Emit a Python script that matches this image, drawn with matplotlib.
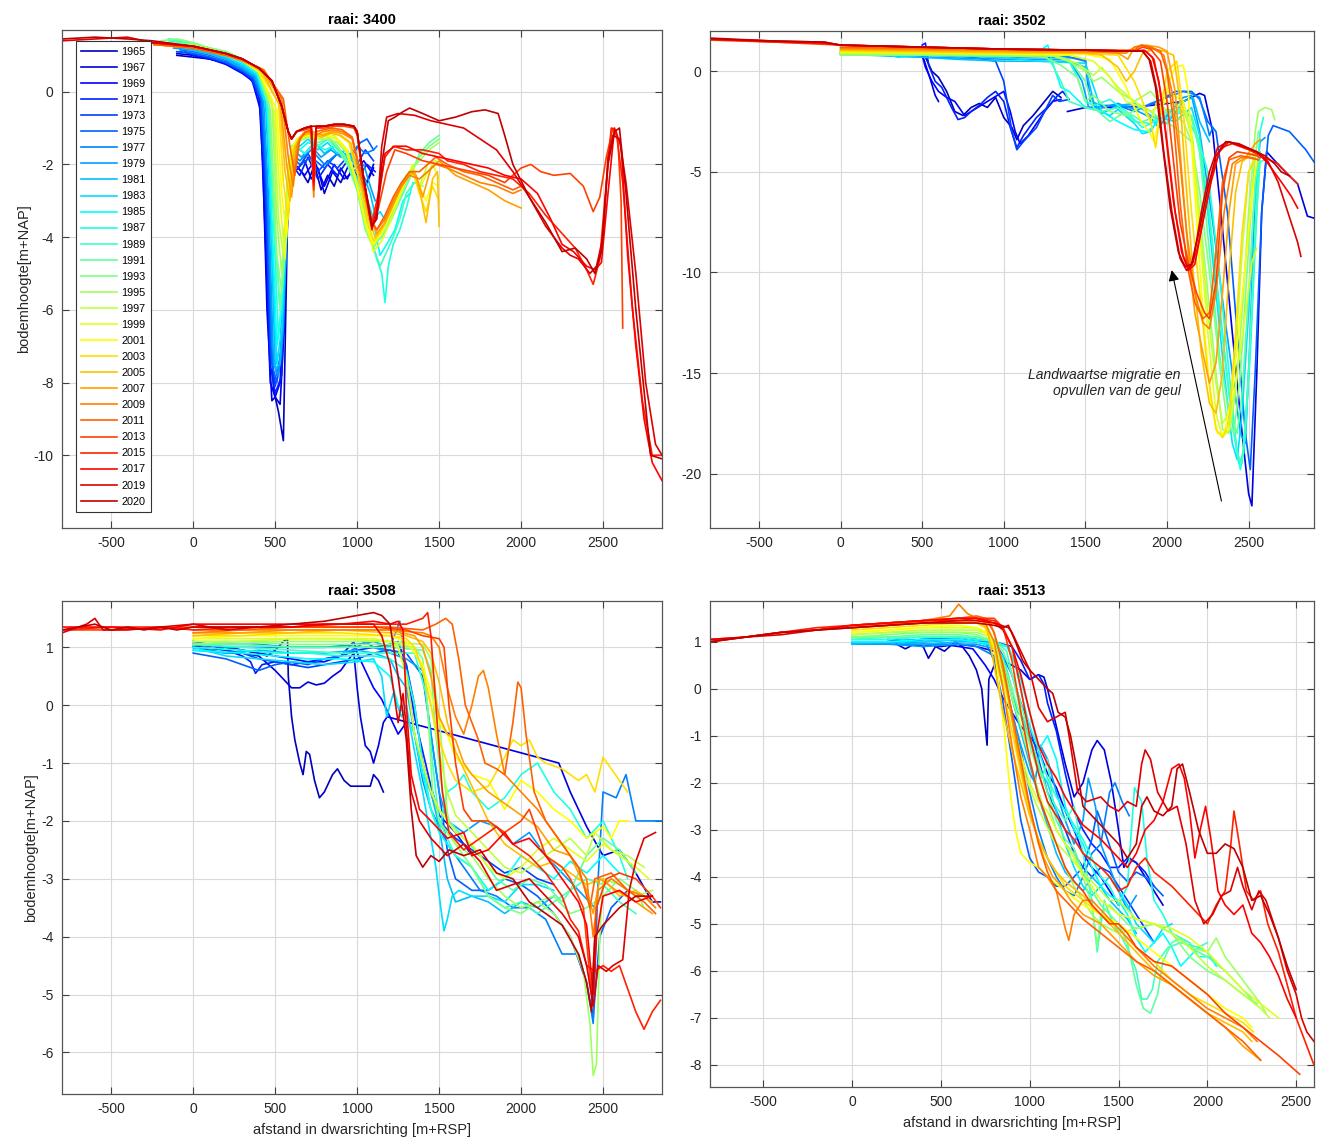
import numpy as np
import matplotlib
matplotlib.use("Agg")
import matplotlib.pyplot as plt

plt.rcParams['font.family'] = ['Liberation Sans', 'DejaVu Sans']
plt.rcParams['axes.unicode_minus'] = False

years = [1965, 1967, 1969, 1971, 1973, 1975, 1977, 1979, 1981, 1983, 1985, 1987, 1989,
         1991, 1993, 1995, 1997, 1999, 2001, 2003, 2005, 2007, 2009, 2011, 2013, 2015,
         2017, 2019, 2020]

N = float('nan')

# raai 3400: one profile (x, z) list per year
p3400 = [
    [(-100,1.0),(0,0.95),(100,0.9),(200,0.8),(300,0.6),(350,0.4),(400,0.1),(430,-1.5),(460,-5.0),(490,-8.2),(520,-8.8),(550,-9.6),(565,-6.0),(580,-2.3),(620,-2.0),(660,-2.2),(700,-2.5),(740,-2.0),(780,-2.7),(820,-2.3),(860,-2.6),(900,-2.1),(940,-2.4),(980,-2.0),(1020,-2.2),(1060,-2.5),(1100,-2.1)],
    [(-100,1.05),(0,1.0),(100,0.9),(200,0.8),(300,0.55),(350,0.35),(400,0.0),(425,-2.0),(450,-6.0),(480,-8.5),(500,-8.4),(530,-8.6),(555,-6.5),(580,-2.1),(620,-2.2),(680,-1.9),(720,-2.4),(760,-2.1),(800,-2.8),(850,-2.2),(900,-2.5),(950,-2.0),(1000,-2.3),(1050,-2.6),(1100,-2.0)],
    [(-50,1.1),(0,1.0),(100,0.9),(200,0.75),(300,0.5),(360,0.3),(410,-0.5),(440,-4.0),(470,-8.0),(500,-8.4),(530,-8.0),(560,-5.0),(585,-2.2),(620,-2.0),(680,-2.3),(740,-1.9),(800,-2.6),(860,-2.0),(920,-2.4),(980,-2.2),(1040,-1.9),(1100,-2.3)],
    [(-50,1.1),(0,1.0),(100,0.92),(200,0.78),(300,0.55),(360,0.3),(410,-0.3),(440,-3.0),(470,-7.5),(500,-8.3),(540,-7.8),(570,-4.0),(600,-2.0),(650,-2.3),(700,-1.8),(760,-2.4),(820,-2.0),(880,-2.3),(940,-1.9),(1000,-2.4),(1060,-2.0),(1110,-2.2)],
    [(-100,1.1),(0,1.05),(100,0.95),(200,0.8),(300,0.55),(360,0.35),(410,-0.2),(440,-2.5),(470,-7.0),(500,-8.1),(530,-7.5),(560,-3.5),(590,-1.9),(640,-2.1),(700,-1.7),(760,-2.2),(820,-1.9),(880,-2.1),(940,-1.8),(1000,-2.0),(1050,-1.6),(1100,-1.9)],
    [(-80,1.1),(0,1.05),(100,0.95),(200,0.8),(300,0.6),(370,0.35),(420,-0.3),(450,-3.0),(480,-7.5),(510,-8.0),(540,-7.2),(570,-3.0),(600,-1.8),(650,-2.0),(720,-1.8),(800,-2.1),(880,-1.7),(950,-1.9),(1020,-1.4),(1060,-1.3),(1100,-1.6)],
    [(-80,1.15),(0,1.1),(100,1.0),(200,0.85),(300,0.6),(370,0.4),(420,-0.2),(450,-2.5),(480,-7.0),(510,-7.8),(540,-7.0),(570,-3.0),(600,-1.7),(650,-1.9),(720,-1.6),(800,-2.0),(880,-1.7),(950,-1.8),(1000,-1.5),(1050,-1.7),(1100,-1.6),(1120,-1.5)],
    [(-120,1.2),(0,1.15),(100,1.05),(200,0.9),(300,0.65),(380,0.4),(430,-0.3),(460,-3.0),(490,-7.5),(520,-7.8),(550,-6.5),(580,-2.5),(610,-1.6),(660,-1.8),(720,-1.5),(780,-1.8),(840,-1.6),(900,-1.8),(960,-1.7),(1000,-2.2),(1040,-2.0),(1080,-2.6),(1110,-3.0)],
    [(-120,1.25),(0,1.15),(100,1.05),(200,0.92),(300,0.7),(380,0.45),(440,-0.2),(470,-3.0),(500,-7.6),(530,-7.5),(560,-5.0),(590,-2.0),(620,-1.5),(680,-1.7),(740,-1.4),(800,-1.7),(860,-1.5),(920,-1.7),(980,-1.8),(1030,-2.2),(1080,-2.8),(1110,-3.4)],
    [(-100,1.3),(0,1.2),(100,1.1),(200,0.95),(300,0.75),(390,0.45),(450,-0.5),(480,-4.0),(510,-7.5),(540,-6.5),(570,-3.5),(600,-1.6),(650,-1.5),(700,-1.3),(760,-1.6),(820,-1.4),(880,-1.7),(940,-1.6),(1000,-2.2),(1050,-2.8),(1100,-3.5),(1140,-3.3),(1180,-3.6),(1220,-3.2)],
    [(-100,1.4),(0,1.25),(100,1.15),(200,1.0),(300,0.8),(390,0.5),(450,-0.3),(480,-3.5),(510,-7.0),(540,-6.0),(570,-3.0),(600,-1.5),(650,-1.6),(700,-1.4),(760,-1.5),(820,-1.3),(880,-1.6),(940,-1.8),(1000,-2.4),(1050,-3.0),(1100,-3.6),(1140,-4.5),(1180,-4.2),(1230,-3.8),(1280,-3.0),(1320,-2.8)],
    [(-150,1.4),(0,1.3),(100,1.2),(200,1.05),(300,0.85),(390,0.55),(450,-0.2),(490,-3.5),(520,-6.8),(550,-5.0),(580,-2.0),(620,-1.5),(680,-1.7),(740,-1.4),(800,-1.6),(860,-1.5),(920,-1.8),(980,-2.2),(1040,-3.2),(1080,-4.0),(1120,-4.6),(1150,-5.0),(1170,-5.8),(1190,-4.8),(1220,-4.2),(1260,-3.8),(1300,-3.2),(1340,-2.5)],
    [(-150,1.45),(0,1.3),(100,1.2),(200,1.1),(300,0.9),(390,0.55),(460,-0.4),(500,-4.0),(530,-6.0),(560,-4.0),(590,-1.8),(640,-1.4),(700,-1.2),(760,-1.5),(820,-1.3),(880,-1.5),(940,-1.9),(1000,-2.6),(1050,-3.6),(1100,-4.3),(1140,-4.8),(1180,-4.4),(1220,-4.0),(1260,-3.5),(1300,-2.8),(1350,-2.5),(1400,-2.6)],
    [(-150,1.45),(-50,1.4),(0,1.3),(100,1.2),(200,1.1),(300,0.9),(400,0.5),(460,-0.3),(500,-4.0),(530,-6.0),(560,-4.5),(590,-1.8),(640,-1.3),(700,-1.2),(760,-1.4),(820,-1.3),(880,-1.6),(940,-2.0),(1000,-2.7),(1050,-3.6),(1100,-4.2),(1150,-4.0),(1200,-3.6),(1260,-3.0),(1320,-2.4),(1380,-1.7),(1440,-1.4),(1500,-1.2)],
    [(-200,1.4),(-100,1.45),(0,1.35),(100,1.2),(200,1.1),(300,0.9),(400,0.55),(470,-0.5),(510,-4.5),(540,-5.5),(570,-3.0),(600,-1.6),(650,-1.3),(700,-1.2),(760,-1.3),(820,-1.2),(880,-1.5),(940,-1.9),(1000,-2.7),(1050,-3.8),(1100,-4.3),(1150,-3.9),(1200,-3.5),(1260,-2.9),(1320,-2.3),(1380,-1.8),(1440,-1.5),(1500,-1.3)],
    [(-200,1.35),(0,1.3),(100,1.2),(200,1.05),(300,0.9),(400,0.55),(480,-0.3),(510,-3.5),(540,-5.0),(570,-3.0),(600,-1.5),(650,-1.3),(700,-1.2),(760,-1.3),(820,-1.3),(880,-1.4),(940,-1.7),(1000,-2.5),(1050,-3.5),(1100,-4.2),(1150,-3.8),(1200,-3.3),(1260,-2.8),(1320,-2.2),(1380,-1.9),(1440,-1.6),(1500,-1.4)],
    [(-200,1.35),(0,1.25),(100,1.15),(200,1.05),(300,0.85),(400,0.55),(490,-0.5),(520,-3.5),(550,-4.5),(580,-2.0),(620,-1.4),(680,-1.3),(740,-1.2),(800,-1.3),(860,-1.2),(920,-1.5),(980,-2.2),(1040,-3.4),(1090,-4.2),(1130,-4.0),(1180,-3.5),(1230,-2.9),(1280,-2.5),(1330,-2.2),(1380,-2.6),(1430,-2.0),(1480,-1.9),(1500,-2.0)],
    [(-220,1.3),(0,1.25),(100,1.15),(200,1.0),(300,0.85),(400,0.55),(500,-0.6),(530,-3.0),(560,-4.6),(590,-1.8),(630,-1.3),(690,-1.2),(750,-1.3),(810,-1.2),(870,-1.3),(930,-1.6),(990,-2.4),(1050,-3.6),(1100,-4.4),(1150,-4.1),(1200,-3.6),(1250,-3.0),(1300,-2.4),(1340,-2.0),(1380,-2.7),(1420,-2.3),(1460,-2.0),(1500,-2.4)],
    [(-230,1.3),(0,1.2),(100,1.1),(200,1.0),(300,0.85),(400,0.55),(510,-0.5),(540,-2.8),(570,-4.0),(600,-1.6),(640,-1.3),(700,-1.2),(760,-1.2),(820,-1.2),(880,-1.3),(940,-1.6),(1000,-2.6),(1050,-3.6),(1100,-4.2),(1150,-3.9),(1200,-3.4),(1250,-2.9),(1300,-2.4),(1340,-2.2),(1380,-2.6),(1420,-3.0),(1460,-2.5),(1500,-2.6)],
    [(-230,1.3),(0,1.2),(100,1.1),(200,1.0),(300,0.85),(400,0.6),(520,-0.3),(550,-2.5),(580,-3.5),(610,-1.6),(650,-1.25),(710,-1.15),(770,-1.2),(830,-1.1),(890,-1.2),(950,-1.4),(1010,-2.4),(1060,-3.5),(1100,-4.1),(1150,-3.8),(1200,-3.3),(1250,-2.8),(1300,-2.3),(1340,-2.2),(1380,-2.8),(1420,-3.3),(1460,-2.6),(1500,-3.0)],
    [(-240,1.3),(0,1.2),(100,1.1),(200,1.0),(300,0.85),(420,0.55),(530,-0.4),(560,-2.2),(590,-3.0),(620,-1.5),(660,-1.2),(720,-1.15),(780,-1.25),(840,-1.15),(900,-1.2),(960,-1.4),(1020,-2.5),(1070,-3.5),(1110,-4.0),(1160,-3.7),(1210,-3.2),(1260,-2.7),(1310,-2.3),(1350,-2.2),(1390,-2.9),(1420,-3.6),(1460,-2.4),(1490,-2.2),(1500,-3.7)],
    [(-240,1.3),(0,1.2),(100,1.1),(200,1.0),(300,0.85),(420,0.6),(530,-0.2),(570,-2.0),(600,-2.9),(630,-1.5),(670,-1.15),(730,-1.1),(790,-1.2),(850,-1.1),(910,-1.15),(970,-1.3),(1030,-2.4),(1080,-3.5),(1120,-3.9),(1170,-3.6),(1220,-3.1),(1270,-2.6),(1320,-2.2),(1360,-2.3),(1400,-2.9),(1450,-2.1),(1500,-1.9),(1550,-2.1),(1600,-2.3),(1700,-2.5),(1800,-2.7),(1900,-3.0),(2000,-3.2)],
    [(-240,1.3),(0,1.2),(100,1.1),(200,1.0),(300,0.85),(430,0.6),(540,-0.2),(580,-1.8),(610,-2.6),(640,-1.4),(680,-1.1),(720,-1.1),(735,-2.9),(750,-1.2),(790,-1.1),(850,-1.05),(910,-1.1),(970,-1.3),(1030,-2.5),(1080,-3.5),(1120,-3.8),(1170,-3.5),(1220,-3.0),(1270,-2.6),(1320,-2.3),(1380,-2.4),(1430,-2.2),(1480,-2.0),(1550,-2.1),(1650,-2.3),(1750,-2.5),(1850,-2.6),(1950,-2.8),(2000,-2.7)],
    [(-240,1.3),(0,1.2),(100,1.1),(200,1.0),(300,0.88),(430,0.6),(550,-0.2),(590,-1.5),(620,-2.3),(650,-1.3),(690,-1.1),(720,-1.05),(735,-2.7),(750,-1.1),(790,-1.05),(850,-1.0),(910,-1.05),(970,-1.25),(1030,-2.4),(1080,-3.5),(1120,-3.8),(1170,-3.4),(1220,-2.9),(1270,-2.5),(1320,-2.2),(1380,-2.2),(1430,-2.0),(1480,-1.8),(1550,-2.0),(1650,-2.2),(1750,-2.3),(1850,-2.5),(1950,-2.7),(2000,-2.6)],
    [(-250,1.35),(0,1.25),(100,1.15),(200,1.05),(300,0.9),(400,0.65),(480,0.3),(540,-0.4),(580,-1.1),(600,-1.3),(630,-1.1),(680,-1.05),(720,-1.0),(735,-2.7),(750,-1.0),(800,-1.0),(860,-0.95),(920,-0.95),(980,-1.0),(1000,-1.2),(1040,-2.5),(1090,-3.7),(1130,-3.2),(1180,-2.2),(1230,-1.6),(1300,-1.7),(1400,-1.9),(1500,-2.0),(1600,-2.1),(1700,-2.2),(1800,-2.3),(1900,-2.5),(2000,-2.1),(2060,-2.0),(2120,-2.2),(2200,-2.3),(2300,-2.25),(2380,-2.6),(2440,-3.3),(2480,-2.9),(2520,-1.8),(2560,-1.0),(2590,-1.3),(2610,-3.0),(2620,-6.5)],
    [(-250,1.35),(0,1.25),(100,1.15),(200,1.05),(300,0.9),(400,0.65),(480,0.3),(540,-0.4),(580,-1.1),(600,-1.3),(630,-1.1),(680,-1.0),(720,-0.95),(735,-2.6),(750,-1.0),(800,-0.95),(860,-0.9),(920,-0.9),(980,-0.95),(1000,-1.1),(1040,-2.4),(1090,-3.6),(1130,-2.8),(1170,-1.8),(1220,-1.5),(1300,-1.6),(1400,-1.6),(1500,-1.7),(1550,-1.9),(1650,-2.0),(1750,-2.2),(1850,-2.3),(1950,-2.4),(2050,-2.8),(2150,-3.4),(2250,-3.9),(2330,-4.3),(2400,-4.9),(2440,-5.3),(2480,-4.6),(2520,-2.5),(2550,-1.0),(2580,-1.1),(2620,-2.5),(2680,-6.0),(2740,-8.5),(2800,-10.0),(2860,-10.0)],
    [(-250,1.35),(0,1.25),(100,1.15),(200,1.05),(300,0.9),(400,0.65),(480,0.3),(540,-0.4),(580,-1.1),(600,-1.3),(630,-1.1),(680,-1.0),(720,-0.95),(735,-2.5),(750,-0.95),(800,-0.95),(860,-0.9),(920,-0.9),(980,-0.95),(1000,-1.1),(1040,-2.4),(1090,-3.8),(1130,-3.0),(1170,-1.7),(1230,-1.5),(1300,-1.5),(1400,-1.7),(1500,-1.8),(1600,-1.9),(1700,-2.0),(1800,-2.1),(1900,-2.3),(2000,-2.4),(2100,-2.8),(2180,-3.5),(2250,-4.2),(2320,-4.4),(2400,-4.8),(2450,-4.9),(2490,-4.7),(2530,-2.8),(2570,-1.0),(2610,-1.5),(2650,-4.5),(2700,-7.0),(2750,-9.0),(2800,-10.2),(2860,-10.7)],
    [(-800,1.4),(-600,1.45),(-400,1.5),(-250,1.35),(0,1.25),(100,1.15),(200,1.05),(300,0.9),(400,0.65),(480,0.3),(540,-0.4),(580,-1.1),(600,-1.3),(630,-1.1),(680,-1.0),(720,-0.95),(735,-2.0),(750,-0.95),(800,-0.95),(860,-0.9),(920,-0.9),(980,-0.95),(1000,-1.1),(1040,-2.4),(1090,-3.7),(1120,-3.4),(1150,-1.5),(1180,-0.7),(1250,-0.6),(1350,-0.65),(1450,-0.8),(1550,-0.9),(1650,-1.0),(1750,-1.3),(1850,-1.6),(1950,-2.2),(2050,-2.9),(2150,-3.7),(2250,-4.3),(2300,-4.5),(2350,-4.6),(2420,-5.0),(2460,-4.8),(2500,-4.0),(2530,-1.8),(2560,-1.2),(2600,-1.3),(2640,-2.5),(2700,-5.0),(2760,-8.0),(2820,-9.7),(2860,-10.0)],
    [(-800,1.45),(-600,1.5),(-400,1.45),(-250,1.4),(0,1.25),(100,1.15),(200,1.05),(300,0.9),(400,0.65),(480,0.3),(540,-0.4),(580,-1.1),(600,-1.3),(630,-1.1),(680,-1.0),(720,-0.95),(800,-0.95),(860,-0.9),(920,-0.9),(980,-0.95),(1000,-1.1),(1040,-2.4),(1090,-3.7),(1120,-3.5),(1150,-2.0),(1190,-0.8),(1230,-0.7),(1280,-0.55),(1320,-0.45),(1400,-0.6),(1500,-0.8),(1600,-0.7),(1700,-0.55),(1780,-0.5),(1860,-0.6),(1900,-1.2),(1950,-2.0),(2050,-2.9),(2150,-3.6),(2250,-4.4),(2330,-4.3),(2400,-4.6),(2450,-5.0),(2490,-4.4),(2530,-2.0),(2570,-1.1),(2600,-1.0),(2640,-2.8),(2700,-6.0),(2790,-10.0),(2860,-10.1)],
]

# raai 3502
p3502 = [
    [(200,1.0),(400,0.8),(520,0.7),(560,0.0),(600,-0.3),(650,-1.0),(700,-2.0),(750,-2.2),(800,-1.8),(850,-1.6),(900,-1.8),(950,-1.3),(1000,-2.3),(1050,-2.8),(1080,-3.4),(1120,-2.7),(1180,-2.2),(1250,-1.5),(1300,-1.0),(1350,-1.3)],
    [(200,1.0),(500,0.75),(510,0.6),(550,-0.4),(580,-1.2),(600,-1.5),(N,N),(1390,-2.0),(1500,-1.8),(1700,-1.8),(1900,-1.7),(2000,-1.6),(2100,-1.5),(2200,-1.1),(2230,-1.2),(2280,-3.0),(2330,-7.0),(2400,-13.0),(2460,-18.0),(2500,-21.0),(2520,-21.6),(2550,-15.0),(2580,-7.0),(2610,-4.0),(2700,-4.8),(2800,-5.6),(2860,-7.2),(2900,-7.3)],
    [(200,1.0),(500,0.8),(520,0.2),(560,-0.5),(600,-1.0),(650,-1.3),(700,-1.5),(760,-2.2),(820,-1.9),(900,-1.5),(960,-1.2),(1000,-1.0),(1040,-2.0),(1070,-3.0),(1100,-3.6),(1150,-3.2),(1250,-2.0),(1300,-1.5),(1350,-1.4)],
    [(500,1.3),(520,1.4),(540,0.3),(580,-0.5),(620,-0.8),(680,-1.8),(720,-2.4),(760,-2.3),(800,-2.0),(850,-1.7),(900,-1.3),(950,-1.0),(1000,-1.5),(1040,-2.8),(1080,-3.8),(1120,-3.2),(1200,-2.3),(1280,-1.7),(1330,-1.2),(1360,-1.0),(1390,-1.3)],
    [(200,1.0),(500,0.9),(800,0.7),(950,0.5),(1000,-0.5),(1050,-3.0),(1080,-3.9),(1120,-3.5),(1200,-2.8),(1250,-2.0),(1300,-1.2),(1340,-1.5),(1400,-1.4)],
    [(200,1.0),(500,0.9),(1000,0.8),(1400,0.7),(1500,0.6),(1520,-1.0),(1560,-1.8),(1700,-1.7),(1850,-1.8),(1950,-1.5),(2050,-1.0),(2150,-1.0),(2200,-1.4),(2250,-2.5),(2300,-3.0),(2370,-7.0),(2430,-13.0),(2480,-18.0),(2510,-19.8),(2540,-15.0),(2580,-7.0),(2620,-3.2),(2650,-2.7),(2750,-3.0),(2850,-3.9),(2900,-4.5)],
    [(0,1.0),(500,0.8),(1000,0.7),(1400,0.7),(1500,0.5),(1530,-1.5),(1600,-1.7),(1700,-1.7),(1800,-2.0),(1900,-1.6),(2000,-1.3),(2100,-1.0),(2150,-1.1),(2200,-1.3),(2240,-2.5),(2260,-3.2),(2280,-2.8)],
    [(0,0.9),(500,0.7),(1000,0.6),(1400,0.6),(1480,-0.5),(1520,-1.8),(1600,-1.8),(1700,-1.6),(1800,-1.9),(1900,-2.3),(1950,-2.8),(2000,-2.2),(2100,-1.3),(2150,-1.2),(2200,-3.0),(2280,-7.5),(2350,-12.0),(2400,-15.0),(2450,-18.0),(2480,-18.5),(2510,-13.0),(2540,-6.0),(2570,-3.5),(2600,-3.3)],
    [(0,0.85),(500,0.7),(700,0.6),(1000,0.5),(1200,0.5),(1400,0.5),(1500,0.2),(1550,-1.5),(1600,-2.1),(1700,-1.7),(1800,-1.6),(1900,-2.2),(2000,-2.6),(2100,-1.5),(2160,-1.3),(2200,-2.5),(2260,-3.5)],
    [(0,0.9),(300,0.8),(350,0.7),(500,0.8),(1000,0.7),(1100,0.6),(1200,0.5),(1500,0.4),(1560,-1.0),(1600,-2.0),(1650,-2.2),(1700,-1.9),(1800,-2.6),(1850,-3.1),(1900,-3.0),(1950,-2.3),(2050,-2.5),(2150,-1.8),(2200,-3.2),(2250,-7.0),(2300,-11.0),(2350,-15.0),(2400,-18.5),(2430,-19.3),(2460,-17.0),(2500,-12.0),(2530,-7.0),(2560,-4.5)],
    [(0,0.95),(400,0.8),(500,0.9),(1000,0.9),(1200,0.9),(1270,1.3),(1300,0.4),(1350,-0.8),(1400,-1.0),(1500,-1.8),(1600,-2.0),(1700,-2.5),(1800,-2.9),(1880,-3.0),(1950,-2.5),(2000,-2.3),(2100,-2.0),(2150,-2.3),(2200,-4.0),(2270,-8.0),(2340,-13.0),(2400,-17.5),(2440,-19.5),(2470,-19.0),(2510,-14.0),(2550,-7.0),(2570,-4.0)],
    [(0,0.9),(500,0.9),(1000,0.9),(1200,0.9),(1300,0.8),(1400,0.5),(1450,-0.3),(1500,-1.5),(1550,-1.7),(1650,-1.4),(1750,-2.0),(1850,-2.8),(1950,-2.4),(2050,-1.8),(2150,-2.2),(2250,-5.0),(2320,-10.0),(2380,-15.0),(2430,-19.0),(2450,-19.8),(2480,-18.0),(2520,-12.0),(2550,-6.0),(2570,-3.0),(2590,-2.3)],
    [(0,0.9),(500,0.9),(1000,0.85),(1250,0.85),(1300,0.3),(1350,-0.5),(1400,-1.5),(1500,-1.8),(1600,-2.0),(1700,-1.8),(1800,-2.5),(1900,-2.6),(2000,-1.9),(2100,-2.0),(2200,-3.5),(2260,-7.0),(2320,-12.0),(2380,-16.0),(2430,-19.0),(2460,-19.5),(2500,-15.0),(2540,-8.0),(2570,-4.5),(2600,-4.4)],
    [(0,0.85),(500,0.85),(1000,0.8),(1300,0.8),(1400,0.6),(1500,-0.5),(1550,-1.8),(1650,-2.5),(1750,-2.0),(1850,-2.5),(1950,-2.2),(2050,-1.8),(2150,-2.2),(2200,-4.0),(2260,-9.0),(2320,-14.0),(2380,-17.0),(2430,-18.0),(2460,-16.0),(2500,-11.0),(2540,-5.5),(2570,-4.0)],
    [(0,0.8),(500,0.8),(1000,0.75),(1250,0.7),(1350,0.3),(1450,-0.3),(1500,-1.5),(1550,-1.2),(1650,-2.0),(1750,-2.2),(1850,-1.7),(1950,-2.3),(2050,-2.8),(2150,-3.5),(2200,-6.0),(2260,-10.0),(2320,-14.5),(2370,-17.5),(2410,-18.0),(2450,-15.0),(2490,-10.0),(2530,-5.0),(2560,-3.0)],
    [(0,0.85),(500,0.85),(1000,0.8),(1300,0.75),(1400,0.5),(1500,0.0),(1550,-0.5),(1600,-0.3),(1700,-1.0),(1800,-1.5),(1900,-1.0),(2000,-2.0),(2100,-2.5),(2150,-3.5),(2200,-7.0),(2250,-11.0),(2300,-15.0),(2340,-17.8),(2380,-18.0),(2420,-16.0),(2460,-12.0),(2500,-7.0),(2540,-3.0),(2560,-2.0),(2600,-1.8),(2640,-1.9),(2660,-2.4)],
    [(0,0.9),(500,0.9),(1000,0.85),(1300,0.8),(1450,0.4),(1550,-0.2),(1600,0.2),(1700,-0.8),(1800,-1.5),(1900,-2.0),(2000,-1.5),(2100,-1.8),(2160,-3.5),(2200,-7.5),(2250,-12.0),(2300,-15.5),(2340,-17.5),(2380,-17.0),(2420,-14.0),(2460,-9.0),(2500,-5.0),(2540,-4.2)],
    [(0,0.95),(500,0.9),(1000,0.85),(1400,0.8),(1550,0.5),(1650,-0.3),(1750,-1.5),(1850,-1.8),(1900,-2.5),(1950,-1.2),(2000,-1.0),(2100,-1.5),(2150,-3.0),(2200,-8.0),(2250,-13.0),(2300,-17.0),(2340,-18.2),(2380,-17.8),(2430,-15.0),(2480,-12.0),(2520,-9.5),(2550,-8.8)],
    [(0,0.95),(500,0.95),(1000,0.9),(1500,0.85),(1650,0.6),(1750,-0.8),(1800,-1.8),(1850,-2.6),(1890,-3.0),(1920,-3.5),(1950,-2.5),(2000,-0.8),(2050,0.2),(2100,0.3),(2130,-1.0),(2170,-6.0),(2220,-12.0),(2270,-16.5),(2310,-18.0),(2350,-18.0),(2400,-16.0),(2450,-12.0),(2500,-8.0),(2530,-5.5),(2550,-4.5)],
    [(0,1.0),(500,0.95),(1000,0.9),(1500,0.9),(1700,0.8),(1800,-0.5),(1850,-1.5),(1900,-2.5),(1930,-3.8),(1960,-2.0),(2000,0.0),(2060,0.5),(2100,-2.0),(2150,-7.0),(2200,-11.0),(2250,-15.0),(2300,-17.8),(2340,-18.2),(2380,-17.5),(2420,-13.0),(2460,-8.0),(2500,-5.0),(2540,-4.4)],
    [(0,1.05),(500,1.0),(1000,0.95),(1500,0.9),(1600,0.8),(1700,0.2),(1750,-0.5),(1800,0.0),(1850,0.9),(1920,1.1),(1980,1.0),(2040,0.8),(2080,-1.5),(2120,-6.0),(2160,-10.0),(2210,-14.0),(2260,-16.5),(2300,-17.0),(2340,-15.0),(2380,-10.0),(2420,-6.0),(2460,-4.5),(2520,-4.1),(2570,-4.2)],
    [(0,1.1),(500,1.05),(1000,1.0),(1500,0.95),(1700,0.9),(1760,0.6),(1800,1.2),(1870,1.3),(1950,1.2),(2000,1.0),(2050,-1.0),(2090,-5.0),(2130,-9.0),(2170,-12.0),(2220,-14.0),(2260,-15.5),(2300,-14.5),(2340,-11.0),(2380,-7.0),(2420,-4.6),(2480,-4.3),(2540,-3.6),(2570,-3.4)],
    [(0,1.15),(500,1.1),(1000,1.05),(1500,1.0),(1750,0.9),(1800,1.2),(1850,1.3),(1920,1.1),(1980,0.8),(2030,-1.0),(2080,-4.5),(2120,-8.0),(2170,-11.0),(2220,-12.5),(2260,-12.8),(2300,-11.0),(2350,-7.0),(2400,-4.6),(2450,-4.3),(2500,-4.3),(2560,-4.4)],
    [(0,1.2),(500,1.15),(1000,1.1),(1500,1.05),(1800,1.05),(1840,1.3),(1900,1.2),(1960,1.0),(2000,0.0),(2040,-2.5),(2080,-6.5),(2120,-9.5),(2170,-11.5),(2220,-12.3),(2260,-12.0),(2300,-9.0),(2340,-5.5),(2380,-4.4),(2450,-4.2),(2520,-4.3),(2560,-4.4)],
    [(-800,1.55),(-400,1.45),(0,1.3),(500,1.2),(1000,1.1),(1500,1.05),(1800,1.0),(1850,1.2),(1900,1.1),(1960,0.5),(2000,-1.5),(2040,-4.5),(2080,-7.5),(2130,-9.5),(2180,-11.0),(2230,-12.0),(2260,-12.3),(2300,-10.5),(2340,-6.0),(2380,-4.3),(2430,-4.0),(2500,-4.1),(2550,-4.2),(2570,-4.3)],
    [(-800,1.6),(-400,1.45),(-100,1.4),(0,1.3),(500,1.2),(1000,1.1),(1500,1.05),(1800,1.0),(1870,1.0),(1920,0.6),(1960,-1.0),(2000,-3.5),(2050,-7.0),(2100,-9.2),(2140,-9.8),(2180,-9.0),(2230,-7.0),(2280,-5.0),(2330,-3.8),(2400,-3.6),(2500,-3.9),(2600,-4.3),(2680,-4.6),(2750,-5.2),(2800,-5.6)],
    [(-800,1.6),(-400,1.5),(-100,1.4),(0,1.3),(500,1.2),(1000,1.1),(1500,1.05),(1800,1.0),(1860,1.05),(1910,0.7),(1950,-0.5),(1990,-3.0),(2040,-6.5),(2090,-9.0),(2130,-9.9),(2170,-9.6),(2220,-7.5),(2270,-5.5),(2320,-4.0),(2380,-3.5),(2450,-3.7),(2550,-4.0),(2620,-4.6),(2700,-5.5),(2760,-6.2),(2800,-6.8)],
    [(-800,1.6),(-400,1.5),(-100,1.45),(0,1.3),(500,1.2),(1000,1.1),(1500,1.05),(1800,1.0),(1850,1.0),(1900,0.5),(1940,-1.0),(1980,-4.0),(2030,-7.0),(2080,-9.3),(2120,-9.9),(2160,-9.5),(2210,-7.0),(2260,-5.0),(2310,-3.8),(2370,-3.5),(2450,-3.7),(2550,-4.0),(2620,-4.5),(2680,-5.5),(2720,-6.5),(2760,-7.5),(2800,-8.5),(2820,-9.2)],
    [(-800,1.65),(-400,1.5),(-100,1.45),(0,1.3),(500,1.2),(1000,1.1),(1500,1.05),(1800,1.0),(1850,1.0),(1890,0.6),(1930,-0.8),(1970,-3.5),(2020,-6.8),(2070,-9.0),(2110,-9.7),(2150,-9.6),(2200,-7.8),(2250,-5.8),(2300,-4.2),(2360,-3.5),(2440,-3.6),(2520,-3.9),(2600,-4.2),(2660,-4.6),(2700,-5.0),(2750,-5.2)],
]

# raai 3508
p3508 = [
    [(0,1.05),(100,1.02),(200,1.0),(300,0.95),(400,0.9),(450,0.85),(500,0.95),(550,1.1),(575,1.15),(580,0.5),(600,-0.2),(620,-0.6),(650,-1.0),(670,-1.2),(690,-0.8),(710,-0.85),(740,-1.3),(770,-1.6),(800,-1.5),(850,-1.2),(880,-1.1),(920,-1.3),(960,-1.4),(1000,-1.4),(1050,-1.4),(1080,-1.4),(1100,-1.2),(1130,-1.3),(1160,-1.5)],
    [(0,1.0),(100,0.98),(200,0.95),(300,0.9),(400,0.85),(500,0.6),(550,0.45),(600,0.3),(650,0.3),(700,0.4),(750,0.35),(800,0.38),(850,0.5),(900,0.6),(950,0.8),(980,0.9),(1000,0.3),(1020,-0.2),(1050,-0.7),(1080,-0.8),(1100,-1.0),(1130,-0.7),(1160,-0.3),(1183,-0.2),(2230,-1.0),(2300,-1.5),(2400,-2.1),(2500,-2.6),(2600,-2.5),(2700,-2.9),(2800,-3.4),(2850,-3.4)],
    [(0,1.0),(100,1.05),(200,1.0),(300,0.95),(400,0.9),(500,0.85),(600,0.8),(700,0.75),(800,0.75),(900,0.85),(980,1.1),(1000,0.9),(1050,0.6),(1100,0.3),(1150,0.1),(1200,-0.2),(1250,-0.5),(1300,-0.3)],
    [(0,1.1),(100,1.05),(200,0.95),(250,0.9),(300,0.85),(350,0.75),(380,0.55),(420,0.7),(500,0.75),(600,0.7),(700,0.75),(800,0.8),(900,0.85),(1000,0.95),(1100,1.0),(1200,1.05),(1250,1.1),(1300,0.7),(1350,-0.2),(1400,-0.8),(1450,-1.4),(1500,-1.9),(1600,-2.2),(1700,-2.6)],
    [(0,1.0),(200,0.9),(300,0.9),(400,0.8),(500,0.75),(600,0.7),(700,0.65),(800,0.7),(900,0.75),(1000,0.8),(1100,0.9),(1200,0.95),(1250,0.9),(1300,0.7),(1350,0.0),(1400,-1.0),(1450,-1.5),(1500,-2.0),(1600,-2.3),(1700,-2.5),(1800,-2.7),(1900,-2.9),(2000,-2.8),(2100,-3.0),(2200,-3.1)],
    [(0,0.9),(100,0.85),(200,0.8),(300,0.7),(400,0.6),(500,0.7),(600,0.75),(700,0.7),(800,0.8),(900,0.85),(1000,1.0),(1050,1.1),(1100,1.0),(1200,0.95),(1300,0.9),(1400,0.5),(1450,-0.5),(1500,-1.5),(1550,-2.5),(1600,-3.0),(1700,-3.2),(1800,-3.2),(1900,-3.0),(2000,-3.1),(2100,-3.3),(2200,-3.6),(2300,-4.0),(2400,-4.8),(2440,-5.4),(2480,-4.0),(2550,-3.5),(2650,-3.2)],
    [(0,1.05),(200,1.05),(400,1.05),(600,1.0),(800,1.0),(1000,1.05),(1100,1.1),(1200,1.0),(1260,1.45),(1280,1.0),(1300,0.5),(1350,-0.5),(1400,-1.3),(1450,-1.8),(1550,-2.4),(1650,-2.8),(1750,-3.2),(1850,-3.3),(1950,-3.5),(2050,-3.5),(2150,-3.7),(2250,-4.3),(2350,-4.3),(2400,-4.8),(2440,-5.5),(2470,-3.0),(2500,-1.5),(2580,-1.6),(2640,-1.2),(2700,-2.0),(2860,-2.0)],
    [(0,1.05),(200,1.0),(400,1.0),(600,1.0),(800,1.0),(1000,1.0),(1100,1.0),(1200,0.9),(1300,0.8),(1400,0.6),(1450,-0.5),(1500,-1.5),(1550,-2.0),(1650,-2.2),(1750,-2.0),(1850,-2.1),(1950,-2.4),(2050,-2.2),(2150,-2.6),(2250,-2.9),(2350,-3.2),(2450,-3.5)],
    [(0,0.95),(200,0.9),(400,0.95),(600,0.9),(800,0.9),(1000,0.95),(1100,0.9),(1200,0.8),(1250,0.5),(1300,0.3),(1350,-0.5),(1400,-1.2),(1450,-1.5),(1500,-2.1),(1550,-3.0),(1600,-3.4),(1700,-3.3),(1800,-3.4),(1900,-3.6),(2000,-3.4),(2100,-3.5),(2200,-3.3)],
    [(0,1.0),(200,0.85),(400,0.8),(600,0.75),(800,0.7),(1000,0.75),(1100,0.8),(1150,0.5),(1180,-0.2),(1220,0.2),(1270,-0.2),(1300,0.0),(1350,-0.8),(1400,-1.5),(1450,-2.3),(1480,-2.8),(1510,-3.5),(1530,-3.9),(1550,-3.7),(1580,-3.3),(1620,-3.2),(1700,-3.3),(1800,-3.3),(1900,-3.4),(2000,-3.1),(2100,-3.1),(2200,-3.2)],
    [(0,0.95),(300,0.9),(500,0.85),(700,0.8),(900,0.8),(1100,0.75),(1200,0.5),(1250,0.0),(1300,-0.2),(1350,-0.5),(1400,-1.2),(1450,-1.8),(1500,-2.2),(1550,-2.4),(1600,-2.6),(1700,-2.8),(1800,-3.2),(1900,-3.0),(2000,-2.6),(2100,-2.8),(2200,-3.0),(2300,-2.7),(2400,-2.9),(2500,-2.6),(2600,-2.9)],
    [(0,1.0),(300,0.95),(500,0.9),(700,0.9),(900,0.85),(1100,0.85),(1200,0.8),(1300,0.6),(1350,0.0),(1400,-1.0),(1450,-1.8),(1500,-2.2),(1550,-1.5),(1600,-1.4),(1650,-1.2),(1700,-1.5),(1800,-1.8),(1900,-1.6),(2000,-1.2),(2100,-1.0),(2200,-1.5),(2300,-1.8),(2400,-2.3),(2500,-2.0),(2600,-2.6),(2650,-3.0)],
    [(0,1.05),(300,1.0),(600,0.95),(900,0.9),(1200,0.9),(1350,0.9),(1420,0.2),(1460,-1.0),(1500,-2.0),(1600,-2.6),(1700,-2.8),(1800,-3.3),(1900,-3.5),(2000,-3.4),(2100,-3.6),(2200,-3.4),(2300,-3.2),(2400,-3.0),(2500,-3.1),(2600,-3.4),(2700,-3.6)],
    [(0,1.05),(300,1.05),(600,1.0),(900,1.0),(1200,1.0),(1400,0.95),(1450,0.6),(1480,-0.5),(1520,-1.5),(1560,-2.0),(1650,-2.3),(1750,-2.6),(1850,-3.0),(1950,-3.2),(2050,-3.0),(2150,-3.1),(2250,-3.4),(2300,-3.2),(2400,-2.6),(2500,-2.3),(2600,-2.5),(2700,-2.9)],
    [(0,1.05),(300,1.1),(600,1.05),(900,1.05),(1200,1.05),(1350,1.0),(1400,0.8),(1430,0.0),(1460,-1.5),(1500,-2.0),(1600,-2.4),(1700,-2.8),(1800,-3.3),(1900,-3.5),(2000,-3.6),(2100,-3.4),(2200,-3.3),(2300,-3.6),(2400,-3.5),(2500,-3.3),(2600,-3.0),(2700,-3.2),(2750,-3.5)],
    [(0,1.1),(300,1.1),(600,1.1),(900,1.1),(1200,1.1),(1400,1.05),(1450,0.8),(1500,-0.2),(1530,-1.2),(1560,-2.2),(1600,-2.4),(1700,-2.6),(1800,-3.0),(1900,-3.3),(2000,-3.5),(2100,-3.4),(2200,-3.6),(2300,-4.0),(2380,-4.6),(2420,-5.5),(2440,-6.4),(2460,-6.2),(2480,-4.0),(2500,-3.0),(2600,-3.1),(2700,-3.3),(2800,-3.2)],
    [(0,1.1),(300,1.1),(600,1.15),(900,1.15),(1200,1.1),(1350,1.0),(1400,0.6),(1450,0.0),(1500,-0.8),(1550,-1.5),(1600,-1.9),(1700,-2.2),(1800,-2.5),(1900,-2.8),(2000,-2.9),(2100,-2.7),(2200,-2.5),(2300,-2.3),(2400,-2.6),(2450,-2.2),(2550,-2.5),(2650,-2.6),(2750,-2.8)],
    [(0,1.15),(300,1.15),(600,1.15),(900,1.15),(1100,1.15),(1200,1.1),(1250,1.0),(1300,0.5),(1350,-0.5),(1400,-1.0),(1450,-1.5),(1500,-1.8),(1600,-2.2),(1700,-2.4),(1800,-2.8),(1900,-3.0),(2000,-2.8),(2100,-2.5),(2200,-2.3),(2300,-2.5),(2400,-2.7),(2500,-2.4),(2600,-2.6),(2700,-2.8),(2780,-3.0)],
    [(0,1.15),(300,1.2),(600,1.2),(900,1.2),(1200,1.2),(1300,1.1),(1400,0.7),(1450,0.2),(1500,-0.3),(1550,-0.5),(1600,-0.9),(1700,-1.2),(1800,-1.3),(1900,-1.8),(2000,-1.3),(2100,-1.5),(2200,-1.8),(2300,-2.0),(2400,-2.3),(2500,-2.1),(2550,-2.3),(2600,-2.0),(2650,-2.0)],
    [(0,1.2),(300,1.2),(600,1.25),(900,1.25),(1200,1.2),(1300,1.15),(1350,1.0),(1400,0.6),(1450,0.0),(1500,-0.6),(1550,-1.0),(1600,-1.3),(1700,-1.5),(1800,-1.4),(1900,-0.9),(1950,-0.6),(2000,-0.7),(2050,-0.6),(2100,-0.9),(2150,-1.0),(2250,-1.1),(2300,-1.2),(2350,-1.3),(2400,-1.2),(2450,-1.5),(2500,-0.9),(2550,-1.1),(2600,-1.3),(2650,-1.5)],
    [(0,1.2),(300,1.25),(600,1.25),(900,1.3),(1200,1.25),(1300,1.2),(1400,1.1),(1450,0.9),(1500,0.4),(1550,-0.3),(1600,-0.8),(1700,-1.4),(1800,-2.0),(1900,-2.4),(2000,-2.6),(2100,-2.8),(2200,-2.7),(2300,-2.9),(2400,-3.1),(2500,-3.0),(2600,-3.3),(2700,-3.2),(2800,-3.4)],
    [(0,1.25),(300,1.25),(600,1.3),(900,1.3),(1200,1.3),(1350,1.2),(1400,1.0),(1450,0.5),(1500,-0.2),(1550,-0.5),(1600,-0.6),(1650,-1.0),(1700,-1.2),(1800,-1.5),(1900,-1.7),(2000,-1.9),(2100,-2.1),(2200,-2.5),(2300,-2.6),(2400,-3.2),(2440,-3.6),(2480,-3.0),(2580,-3.2),(2700,-3.4),(2800,-3.6)],
    [(0,1.25),(300,1.3),(600,1.3),(900,1.3),(1200,1.3),(1400,1.25),(1450,1.2),(1500,1.0),(1550,0.3),(1600,-0.2),(1650,-0.5),(1700,0.0),(1740,0.5),(1770,0.6),(1800,0.3),(1850,-0.5),(1900,-1.2),(2000,-1.5),(2100,-1.8),(2200,-2.2),(2300,-2.6),(2400,-3.0),(2440,-4.0),(2470,-3.2),(2550,-3.0),(2650,-3.2),(2750,-3.3),(2820,-3.5)],
    [(0,1.3),(300,1.3),(600,1.35),(900,1.35),(1200,1.35),(1400,1.3),(1480,1.4),(1540,1.5),(1580,1.4),(1620,0.8),(1660,0.0),(1700,-0.3),(1740,-0.6),(1780,-1.0),(1850,-1.1),(1900,-1.2),(1950,-0.3),(1980,0.4),(2000,0.3),(2030,-0.5),(2080,-1.5),(2150,-2.0),(2250,-2.4),(2350,-2.8),(2420,-3.5),(2450,-3.0),(2550,-2.9),(2650,-3.2),(2750,-3.4),(2820,-3.6)],
    [(-800,1.3),(-500,1.3),(0,1.35),(300,1.35),(600,1.35),(900,1.35),(1100,1.35),(1300,1.3),(1400,1.2),(1500,1.15),(1530,1.0),(1560,0.0),(1600,-1.0),(1650,-1.8),(1700,-2.0),(1800,-2.0),(1900,-2.2),(2000,-2.0),(2050,-1.8),(2100,-2.2),(2150,-2.6),(2250,-2.8),(2300,-3.0),(2380,-3.5),(2430,-5.0),(2460,-3.5),(2520,-3.0),(2600,-2.9),(2700,-3.0),(2800,-3.3),(2850,-3.5)],
    [(-800,1.3),(-500,1.35),(-200,1.35),(0,1.3),(300,1.35),(600,1.35),(900,1.4),(1100,1.4),(1300,1.4),(1400,1.5),(1430,1.6),(1450,1.2),(1480,0.0),(1520,-1.5),(1560,-2.2),(1650,-2.5),(1750,-2.3),(1850,-2.1),(1950,-2.4),(2050,-2.6),(2150,-2.9),(2250,-3.3),(2300,-3.7),(2350,-3.9),(2400,-4.5),(2450,-4.6),(2500,-4.5),(2550,-4.6),(2600,-4.5),(2650,-4.9),(2700,-5.3),(2750,-5.6),(2800,-5.3),(2850,-5.1)],
    [(-800,1.35),(-500,1.35),(-200,1.3),(0,1.4),(300,1.4),(600,1.4),(900,1.4),(1100,1.45),(1200,1.4),(1250,1.45),(1280,1.3),(1300,0.0),(1330,-1.2),(1380,-1.8),(1450,-2.0),(1550,-2.3),(1650,-2.2),(1700,-2.6),(1800,-2.5),(1900,-2.2),(1950,-2.4),(2050,-2.3),(2150,-2.6),(2250,-3.0),(2350,-3.4),(2400,-3.8),(2440,-5.0),(2460,-4.0),(2500,-3.3),(2600,-3.2),(2700,-3.4),(2800,-3.3)],
    [(-800,1.25),(-650,1.4),(-600,1.5),(-550,1.3),(-400,1.3),(-200,1.35),(0,1.4),(200,1.3),(400,1.35),(600,1.35),(800,1.4),(1000,1.4),(1100,1.4),(1150,1.2),(1200,0.7),(1250,-0.3),(1280,0.2),(1300,-0.4),(1330,-1.5),(1380,-2.0),(1450,-2.3),(1550,-2.6),(1650,-2.4),(1750,-2.7),(1850,-3.2),(1950,-3.1),(2050,-3.0),(2150,-3.3),(2250,-3.6),(2350,-4.0),(2400,-4.5),(2440,-5.2),(2470,-4.5),(2520,-4.6),(2560,-4.5),(2620,-4.4),(2660,-3.2),(2700,-2.7),(2750,-2.3),(2820,-2.2)],
    [(-800,1.3),(-700,1.35),(-600,1.4),(-500,1.3),(-400,1.35),(-300,1.3),(-200,1.35),(-100,1.3),(0,1.35),(200,1.35),(400,1.35),(600,1.4),(800,1.45),(900,1.5),(1000,1.55),(1100,1.6),(1150,1.55),(1200,1.4),(1250,0.5),(1300,-0.6),(1330,-1.8),(1360,-2.6),(1400,-2.8),(1450,-2.6),(1500,-2.7),(1560,-2.5),(1650,-2.6),(1750,-2.5),(1850,-2.9),(1950,-3.0),(2050,-3.4),(2150,-3.6),(2250,-3.8),(2350,-4.3),(2400,-4.8),(2430,-5.3),(2450,-4.0),(2500,-3.8),(2600,-3.5),(2700,-3.3),(2800,-3.3)],
]

# raai 3513
p3513 = [
    [(250,0.95),(300,0.85),(350,0.95),(400,0.9),(430,0.65),(470,0.9),(520,0.8),(580,1.0),(620,0.9),(660,0.7),(700,0.4),(730,0.0),(760,-1.2),(770,0.2),(800,0.5),(850,0.4)],
    [(300,1.0),(400,0.95),(500,0.9),(600,0.95),(700,0.9),(800,0.8),(850,0.6),(900,0.5),(950,0.4),(1000,0.2),(1050,0.3),(1080,0.25),(1100,0.0),(1150,-0.8),(1200,-1.6),(1250,-2.3),(1300,-2.0),(1350,-1.3),(1380,-1.1),(1420,-1.3),(1460,-2.0),(1500,-3.0),(1530,-3.8),(1560,-3.6),(1600,-3.7),(1650,-4.0),(1700,-4.3),(1750,-4.6)],
    [(300,0.95),(400,0.9),(500,0.95),(600,0.9),(680,0.85),(750,0.5),(800,0.2),(850,-0.2),(900,-0.5),(950,-0.8),(1000,-1.0),(1050,-1.3),(1100,-1.8),(1150,-2.1),(1200,-2.6),(1250,-3.0),(1300,-3.5),(1350,-3.8),(1400,-4.0),(1450,-4.3),(1500,-4.6)],
    [(200,1.05),(400,1.0),(600,1.05),(700,1.0),(800,1.0),(900,0.9),(950,0.6),(1000,0.2),(1050,0.3),(1080,0.1),(1100,-0.3),(1150,-0.9),(1200,-1.8),(1250,-2.6),(1300,-3.0),(1350,-3.3),(1400,-3.5),(1450,-3.8),(1500,-3.8),(1550,-3.6),(1600,-3.7),(1650,-3.9),(1700,-4.2)],
    [(200,1.0),(400,1.05),(600,1.1),(700,1.05),(800,1.0),(850,0.7),(900,0.3),(950,-0.3),(1000,-0.8),(1050,-1.5),(1100,-2.2),(1150,-2.6),(1200,-3.0),(1250,-3.5),(1300,-3.8),(1350,-4.0),(1400,-3.8),(1450,-3.9),(1500,-4.2),(1550,-4.5),(1600,-4.8),(1650,-5.1),(1700,-5.4)],
    [(0,1.0),(200,1.0),(400,1.05),(600,1.05),(700,1.0),(750,1.0),(800,0.6),(850,-0.3),(900,-1.5),(950,-2.8),(1000,-3.6),(1050,-3.9),(1100,-4.0),(1150,-4.2),(1200,-4.2),(1250,-4.0),(1300,-3.8),(1350,-3.2),(1380,-2.6),(1420,-3.0),(1500,-3.9),(1550,-4.1),(1600,-3.9),(1650,-4.0),(1700,-4.2),(1750,-4.4)],
    [(0,0.95),(200,0.95),(400,0.95),(600,0.95),(700,0.9),(800,0.7),(850,0.2),(900,-0.5),(950,-1.3),(1000,-2.2),(1050,-3.0),(1100,-3.6),(1150,-4.0),(1200,-4.3),(1250,-4.4),(1300,-4.0),(1350,-3.5),(1400,-3.3),(1450,-2.2),(1480,-2.0),(1520,-2.4),(1560,-2.7)],
    [(0,0.95),(200,0.95),(400,0.9),(600,0.95),(700,0.95),(800,0.85),(850,0.4),(900,-0.5),(950,-1.2),(1000,-1.8),(1030,-2.0),(1060,-1.2),(1100,-1.5),(1150,-2.2),(1200,-2.8),(1250,-3.3),(1300,-2.8),(1330,-1.9),(1370,-2.5),(1400,-3.3),(1450,-3.8),(1500,-4.3),(1550,-4.7),(1600,-4.4)],
    [(0,0.95),(200,1.0),(400,0.95),(600,1.0),(700,1.0),(800,0.9),(850,0.6),(900,-0.2),(950,-0.9),(1000,-1.6),(1050,-2.3),(1100,-2.9),(1150,-3.5),(1200,-3.9),(1250,-4.1),(1300,-4.3),(1350,-4.0),(1400,-4.2),(1450,-4.5),(1500,-4.7),(1550,-4.9),(1600,-5.2)],
    [(0,1.0),(200,1.0),(400,1.0),(600,1.05),(700,1.0),(800,0.9),(850,0.7),(900,0.0),(930,-0.5),(960,-0.6),(1000,-1.1),(1050,-1.7),(1100,-2.0),(1150,-2.6),(1200,-3.3),(1250,-3.8),(1300,-4.2),(1350,-4.4),(1400,-4.2),(1450,-4.0),(1500,-4.3),(1550,-4.6),(1600,-5.0),(1650,-5.2),(1700,-5.4),(1750,-5.1),(1800,-5.0)],
    [(0,1.0),(200,1.0),(400,1.05),(600,1.05),(700,1.0),(800,0.95),(870,0.9),(900,0.7),(950,0.2),(1000,-0.5),(1050,-1.3),(1100,-1.0),(1150,-1.5),(1200,-2.5),(1250,-3.0),(1300,-3.3),(1350,-3.8),(1400,-4.2),(1450,-4.4),(1500,-4.5),(1550,-4.8),(1600,-5.3),(1650,-5.6),(1700,-5.4),(1750,-5.2),(1800,-5.5),(1850,-5.9),(1900,-5.7),(1950,-5.5),(2000,-5.6),(2050,-5.9)],
    [(0,1.05),(200,1.05),(400,1.1),(600,1.1),(700,1.05),(800,1.0),(880,0.9),(920,0.5),(960,-0.2),(1000,-0.8),(1050,-1.3),(1100,-1.9),(1150,-2.3),(1200,-2.6),(1250,-2.9),(1300,-3.2),(1350,-3.6),(1400,-4.0),(1450,-4.2),(1500,-4.6),(1550,-4.2),(1590,-2.1),(1630,-2.4),(1660,-3.6),(1700,-4.5),(1750,-4.8),(1800,-5.2),(1850,-5.3),(1900,-5.4),(1950,-5.7),(2000,-5.7),(2050,-5.8)],
    [(0,1.05),(200,1.1),(400,1.1),(600,1.1),(700,1.1),(800,1.05),(870,0.8),(920,0.0),(970,-0.8),(1020,-1.3),(1070,-1.9),(1100,-1.5),(1130,-2.4),(1200,-2.8),(1250,-2.5),(1300,-3.5),(1350,-4.5),(1380,-5.6),(1420,-4.5),(1470,-5.0),(1520,-5.3),(1560,-5.6),(1600,-6.0),(1630,-6.6),(1660,-6.6),(1690,-6.4),(1720,-5.8),(1780,-5.5),(1850,-5.4),(1950,-5.5),(2000,-5.4)],
    [(0,1.1),(200,1.1),(400,1.15),(600,1.15),(700,1.1),(800,1.0),(850,0.8),(900,0.3),(950,-0.3),(1000,-1.0),(1050,-1.6),(1100,-2.2),(1150,-2.8),(1200,-3.2),(1250,-3.4),(1300,-3.9),(1350,-4.3),(1400,-4.6),(1450,-4.8),(1500,-5.0),(1550,-5.4),(1600,-6.3),(1640,-6.8),(1680,-6.9),(1720,-6.5),(1750,-5.8),(1800,-5.4),(1850,-5.3),(1900,-5.5),(2000,-5.7),(2100,-6.0),(2200,-6.4),(2250,-6.6)],
    [(0,1.1),(200,1.15),(400,1.2),(600,1.2),(700,1.15),(800,1.0),(850,0.6),(900,0.0),(950,-0.6),(1000,-1.2),(1050,-1.8),(1100,-2.4),(1150,-3.0),(1200,-3.3),(1250,-3.5),(1300,-4.0),(1350,-4.6),(1380,-5.5),(1400,-4.8),(1450,-4.6),(1500,-4.8),(1550,-5.0),(1600,-5.1),(1700,-5.0),(1800,-5.2),(1900,-5.7),(2000,-6.0),(2100,-6.2),(2200,-6.5),(2280,-6.7)],
    [(0,1.15),(200,1.2),(400,1.2),(600,1.2),(700,1.2),(780,1.1),(850,0.5),(900,-0.2),(950,-0.8),(1000,-1.5),(1050,-2.2),(1100,-2.8),(1150,-3.3),(1200,-3.8),(1250,-4.2),(1300,-4.5),(1350,-4.8),(1400,-5.0),(1500,-5.2),(1600,-5.1),(1700,-5.0),(1800,-5.2),(1900,-5.5),(2000,-5.6),(2050,-5.3),(2100,-5.7),(2200,-6.2),(2300,-6.7),(2330,-6.9)],
    [(0,1.15),(200,1.2),(400,1.25),(600,1.25),(700,1.25),(780,1.15),(830,0.6),(880,-0.3),(930,-1.2),(980,-1.9),(1030,-2.4),(1080,-2.8),(1130,-3.2),(1180,-3.4),(1230,-3.6),(1300,-3.9),(1400,-4.3),(1450,-4.5),(1500,-4.5),(1600,-4.9),(1700,-5.0),(1800,-5.2),(1900,-5.5),(2000,-5.9),(2100,-6.2),(2200,-6.5),(2300,-6.8),(2350,-7.0)],
    [(0,1.2),(200,1.25),(400,1.3),(600,1.3),(700,1.3),(760,1.2),(800,0.9),(850,0.2),(900,-0.6),(950,-1.4),(1000,-2.0),(1050,-2.4),(1100,-2.6),(1150,-3.0),(1200,-3.3),(1250,-3.6),(1300,-4.0),(1350,-4.2),(1400,-4.5),(1500,-4.8),(1600,-4.9),(1700,-5.0),(1800,-5.1),(1900,-5.3),(2000,-5.6),(2100,-6.0),(2200,-6.4),(2300,-6.7),(2400,-7.0)],
    [(0,1.2),(200,1.25),(400,1.3),(600,1.35),(700,1.3),(750,1.2),(800,0.9),(830,0.0),(860,-1.0),(880,-1.8),(900,-2.5),(920,-3.0),(950,-3.5),(1000,-3.7),(1050,-3.8),(1100,-4.0),(1200,-4.3),(1300,-4.6),(1400,-4.8),(1500,-5.0),(1600,-5.3),(1700,-5.6),(1800,-5.9),(1900,-6.2),(2000,-6.5),(2100,-6.8),(2200,-7.0),(2250,-7.2)],
    [(0,1.25),(200,1.3),(400,1.35),(600,1.4),(700,1.4),(750,1.3),(800,0.8),(850,0.0),(900,-0.9),(950,-1.8),(1000,-2.6),(1050,-3.2),(1100,-3.6),(1150,-3.9),(1200,-4.2),(1300,-4.5),(1400,-4.8),(1500,-5.1),(1600,-5.5),(1700,-5.8),(1800,-6.2),(1900,-6.5),(2000,-6.7),(2100,-6.9),(2200,-7.1),(2260,-7.3)],
    [(0,1.3),(200,1.35),(400,1.4),(600,1.45),(700,1.45),(760,1.3),(800,0.5),(850,-0.5),(900,-1.3),(950,-2.0),(1000,-2.7),(1050,-3.2),(1100,-3.6),(1150,-3.9),(1200,-4.1),(1300,-4.4),(1400,-4.8),(1500,-5.2),(1600,-5.6),(1700,-6.0),(1800,-6.3),(1900,-6.6),(2000,-6.9),(2100,-7.1),(2200,-7.3),(2250,-7.5)],
    [(0,1.3),(200,1.35),(400,1.45),(600,1.5),(700,1.5),(780,1.4),(830,0.8),(880,-0.2),(930,-1.3),(980,-2.2),(1030,-3.0),(1080,-3.6),(1130,-4.0),(1180,-4.2),(1230,-4.5),(1300,-4.8),(1400,-5.0),(1500,-5.4),(1600,-5.8),(1700,-6.1),(1800,-6.3),(1900,-6.6),(2000,-6.9),(2100,-7.2),(2200,-7.6),(2300,-7.9)],
    [(0,1.35),(200,1.4),(400,1.45),(550,1.55),(600,1.8),(650,1.6),(700,1.5),(750,1.4),(800,1.0),(850,0.0),(900,-1.2),(950,-2.3),(1000,-3.0),(1050,-3.8),(1100,-4.0),(1150,-4.3),(1200,-5.1),(1220,-5.35),(1250,-4.8),(1300,-4.5),(1350,-4.5),(1400,-4.7),(1500,-5.1),(1600,-5.5),(1700,-5.9),(1800,-6.2),(1900,-6.5),(2000,-6.8),(2100,-7.0),(2200,-7.2),(2280,-7.5)],
    [(0,1.35),(200,1.4),(400,1.45),(600,1.5),(700,1.55),(750,1.5),(800,1.2),(850,0.5),(900,-0.5),(950,-1.5),(1000,-2.5),(1050,-3.3),(1100,-3.9),(1150,-4.3),(1200,-4.5),(1250,-4.7),(1300,-4.9),(1400,-5.2),(1500,-5.5),(1600,-5.8),(1700,-6.0),(1800,-6.3),(1900,-6.6),(2000,-6.9),(2100,-7.2),(2200,-7.5),(2300,-7.9)],
    [(-800,1.0),(-600,1.1),(-400,1.2),(-200,1.25),(0,1.35),(200,1.4),(400,1.45),(600,1.5),(700,1.5),(800,1.5),(850,1.3),(900,0.6),(950,-0.5),(1000,-1.5),(1050,-2.3),(1100,-2.8),(1150,-3.3),(1200,-3.8),(1250,-4.1),(1300,-4.3),(1350,-4.6),(1400,-4.8),(1450,-5.0),(1500,-5.0),(1550,-5.2),(1600,-5.5),(1700,-5.8),(1800,-5.9),(1900,-6.2),(2000,-6.5),(2100,-6.9),(2200,-7.2),(2300,-7.5),(2400,-7.8),(2520,-8.2)],
    [(-800,1.05),(-600,1.1),(-400,1.2),(-200,1.3),(0,1.35),(200,1.4),(400,1.45),(600,1.45),(700,1.5),(800,1.45),(850,1.3),(900,0.9),(950,0.0),(1000,-1.0),(1050,-1.8),(1100,-2.4),(1150,-2.7),(1200,-3.0),(1250,-3.2),(1300,-3.5),(1400,-3.8),(1450,-4.0),(1500,-4.3),(1550,-4.2),(1600,-3.8),(1650,-3.6),(1700,-3.9),(1800,-4.2),(1900,-4.6),(2000,-5.0),(2050,-4.6),(2100,-4.3),(2130,-3.4),(2150,-2.6),(2180,-3.3),(2220,-4.3),(2260,-4.5),(2300,-4.3),(2340,-5.0),(2400,-5.6),(2450,-6.3),(2500,-7.0),(2550,-7.5),(2600,-8.0)],
    [(-800,1.0),(-600,1.1),(-400,1.2),(-200,1.25),(0,1.35),(200,1.4),(400,1.45),(600,1.5),(700,1.5),(800,1.4),(850,1.25),(900,0.9),(950,0.3),(1000,-0.5),(1050,-1.2),(1100,-1.6),(1150,-1.9),(1200,-2.3),(1250,-2.6),(1300,-2.9),(1400,-3.2),(1500,-3.6),(1550,-3.8),(1600,-3.5),(1650,-3.0),(1700,-2.8),(1750,-2.4),(1800,-1.7),(1840,-1.6),(1870,-1.9),(1900,-2.6),(1930,-3.6),(1960,-3.0),(1990,-2.5),(2020,-3.2),(2060,-4.3),(2100,-4.6),(2150,-4.8),(2200,-4.6),(2250,-5.2),(2300,-5.4),(2350,-5.7),(2400,-6.1),(2450,-6.6),(2500,-7.0)],
    [(-800,1.05),(-600,1.1),(-400,1.15),(-200,1.25),(0,1.3),(200,1.35),(400,1.4),(600,1.45),(700,1.45),(800,1.4),(880,1.3),(900,1.2),(950,0.8),(1000,0.4),(1050,-0.4),(1100,-0.7),(1150,-0.6),(1200,-0.5),(1230,-1.2),(1270,-2.2),(1320,-2.4),(1400,-2.3),(1450,-2.5),(1500,-2.6),(1550,-2.4),(1600,-2.5),(1630,-1.6),(1650,-1.3),(1680,-1.5),(1720,-2.2),(1780,-2.6),(1830,-2.5),(1880,-3.3),(1930,-4.5),(1980,-5.0),(2030,-4.8),(2080,-4.4),(2130,-4.3),(2170,-3.8),(2200,-4.2),(2250,-4.7),(2290,-4.3),(2330,-4.5),(2400,-5.3),(2450,-6.0),(2500,-6.5),(2530,-7.0),(2560,-7.3),(2600,-7.5)],
    [(-800,1.0),(-600,1.1),(-400,1.2),(-200,1.25),(0,1.3),(200,1.35),(400,1.4),(600,1.4),(700,1.4),(800,1.35),(850,1.3),(880,1.35),(920,1.0),(960,0.6),(1000,0.4),(1050,0.2),(1100,0.0),(1130,-0.1),(1160,-0.5),(1200,-0.6),(1230,-1.0),(1270,-1.8),(1300,-2.5),(1350,-2.7),(1400,-2.9),(1500,-3.3),(1550,-3.6),(1600,-3.3),(1630,-2.5),(1660,-2.3),(1700,-2.6),(1750,-2.7),(1800,-2.5),(1830,-1.7),(1860,-1.6),(1900,-2.2),(1950,-3.0),(2000,-3.5),(2050,-3.5),(2100,-3.3),(2150,-3.4),(2200,-3.8),(2250,-4.5),(2300,-4.4),(2350,-4.8),(2400,-5.3),(2450,-5.9),(2500,-6.4)],
]


def matlab_jet(n):
    m = int(np.ceil(n / 4))
    u = np.concatenate([np.arange(1, m + 1) / m, np.ones(m - 1), np.arange(m, 0, -1) / m])
    g = int(np.ceil(m / 2)) - (1 if n % 4 == 1 else 0) + np.arange(1, len(u) + 1)
    r = g + m
    b = g - m
    g = g[g <= n]
    r = r[r <= n]
    b = b[b >= 1]
    J = np.zeros((n, 3))
    J[r - 1, 0] = u[:len(r)]
    J[g - 1, 1] = u[:len(g)]
    J[b - 1, 2] = u[len(u) - len(b):]
    return J


colors = matlab_jet(len(years))

fig = plt.figure(figsize=(13.26, 11.45), dpi=100)

panels = [
    ("raai: 3400", p3400, [0.0468, 0.5389, 0.4525, 0.4350], (-800, 2860), (-12.0, 1.7), np.arange(-10, 1, 2)),
    ("raai: 3502", p3502, [0.5354, 0.5389, 0.4555, 0.4340], (-800, 2900), (-22.7, 2.0), np.arange(-20, 1, 5)),
    ("raai: 3508", p3508, [0.0468, 0.0445, 0.4525, 0.4306], (-800, 2860), (-6.72, 1.8), np.arange(-6, 2, 1)),
    ("raai: 3513", p3513, [0.5354, 0.0507, 0.4555, 0.4245], (-800, 2600), (-8.47, 1.87), np.arange(-8, 2, 1)),
]

axes = []
for k, (title, profiles, pos, xl, yl, yt) in enumerate(panels):
    ax = fig.add_axes(pos)
    for i, prof in enumerate(profiles):
        xs = [p[0] for p in prof]
        zs = [p[1] for p in prof]
        ax.plot(xs, zs, color=colors[i], lw=1.2, label=str(years[i]))
    ax.set_xlim(*xl)
    ax.set_ylim(*yl)
    ax.set_xticks(np.arange(-500, xl[1] + 1, 500))
    ax.set_yticks(yt)
    ax.grid(True, color='#d9d9d9', lw=0.8)
    ax.set_axisbelow(True)
    ax.tick_params(direction='in', top=True, right=True, length=5, labelsize=10,
                   color='#404040', labelcolor='#262626', pad=6)
    for s in ax.spines.values():
        s.set_color('#555555')
        s.set_linewidth(0.9)
    ax.set_title(title, fontsize=10.5, fontweight='bold', pad=4)
    if k in (0, 2):
        ax.set_ylabel('bodemhoogte[m+NAP]', fontsize=10.5, color='#262626', labelpad=2)
    if k in (2, 3):
        ax.set_xlabel('afstand in dwarsrichting [m+RSP]', fontsize=10.5, color='#262626', labelpad=5)
    axes.append(ax)

leg = axes[0].legend(loc='upper left', bbox_to_anchor=(0.023, 0.977), borderaxespad=0,
                     fontsize=7.8, handlelength=3.3, handletextpad=0.4, labelspacing=0.56,
                     borderpad=0.5, fancybox=False, framealpha=1, edgecolor='#333333')
leg.get_frame().set_linewidth(0.8)

ax = axes[1]
ax.text(2085, -15.5, 'Landwaartse migratie en\nopvullen van de geul', ha='right', va='center',
        style='italic', fontsize=10, multialignment='right', color='#222222')
ax.annotate('', xy=(2025, -9.75), xytext=(2337, -21.5),
            arrowprops=dict(arrowstyle='-|>', color='black', lw=0.8, mutation_scale=16))

fig.savefig('out.png', dpi=100)
